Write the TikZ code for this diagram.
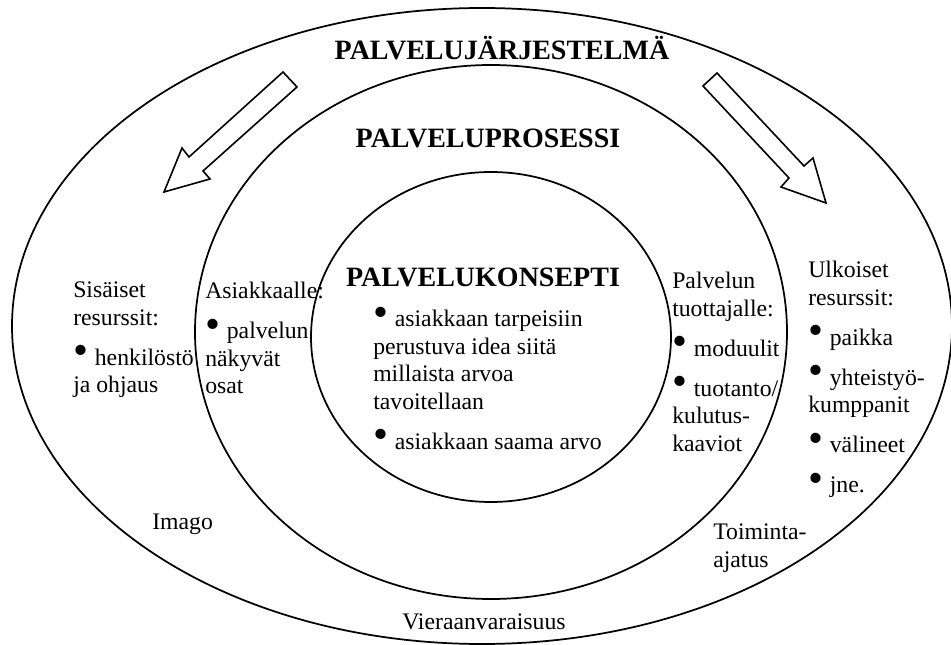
\documentclass[tikz,border=0pt]{standalone}
\usepackage{fontspec}
\setmainfont{Liberation Serif}
\usepackage{tikz}
\usetikzlibrary{calc}
\usetikzlibrary{positioning}

\newcommand{\pallo}{\raisebox{0.02em}{\scalebox{1.8}{•}}\hspace{0.28em}}
\newcommand{\vali}{\\[9.4pt]}

\begin{document}
\begin{tikzpicture}[x=0.75pt,y=-0.75pt,
	rengas/.style={draw,line width=1.3pt},
	nuoli/.style={draw,line width=1.2pt,fill=white,line join=miter},
	otsikko/.style={font=\fontsize{21}{25}\selectfont\bfseries,inner sep=0pt,anchor=base},
	teksti/.style={font=\fontsize{17.8}{20.6}\selectfont,align=left,inner sep=0pt,anchor=north west}]
	\useasboundingbox (0,0) rectangle (951,645);
	\draw[rengas] (482,326) ellipse [x radius=470, y radius=318];
	\draw[rengas] (491,332) ellipse [x radius=296, y radius=267];
	\draw[rengas] (491,337) ellipse [x radius=180, y radius=165];
	\draw[nuoli] (283,72) -- (297,87) -- (203,171) -- (210,179) -- (164,192) -- (182,148) -- (189,157) -- cycle;
	\draw[nuoli] (717,73) -- (804,166) -- (813,158) -- (826,203) -- (781,187) -- (789,178) -- (703,86) -- cycle;
	\node[otsikko] (jarjestelma) at (502,60) {PALVELUJÄRJESTELMÄ};
	\node[otsikko] (prosessi) at (488,148) {PALVELUPROSESSI};
	\node[otsikko] (konsepti) at (483,287) {PALVELUKONSEPTI};
	\node[teksti] (idea) at (373,307) {\pallo asiakkaan tarpeisiin\\perustuva idea siitä\\millaista arvoa\\tavoitellaan\vali\pallo asiakkaan saama arvo};
	\node[teksti] (sisaiset) at (73,282) {Sisäiset\\resurssit:\vali\pallo henkilöstö\\ja ohjaus};
	\node[teksti] (asiakkaalle) at (205,282) {Asiakkaalle:\vali\pallo palvelun\\näkyvät\\osat};
	\node[teksti] (tuottajalle) at (672,272) {Palvelun\\tuottajalle:\vali\pallo moduulit\vali\pallo tuotanto/\\kulutus-\\kaaviot};
	\node[teksti] (ulkoiset) at (808,261) {Ulkoiset\\resurssit:\vali\pallo paikka\vali\pallo yhteistyö-\\kumppanit\vali\pallo välineet\vali\pallo jne.};
	\node[teksti] (imago) at (152,514) {Imago};
	\node[teksti] (toiminta) at (713,524) {Toiminta-\\ajatus};
	\node[teksti] (vieraanvaraisuus) at (402,614) {Vieraanvaraisuus};
\end{tikzpicture}
\end{document}
